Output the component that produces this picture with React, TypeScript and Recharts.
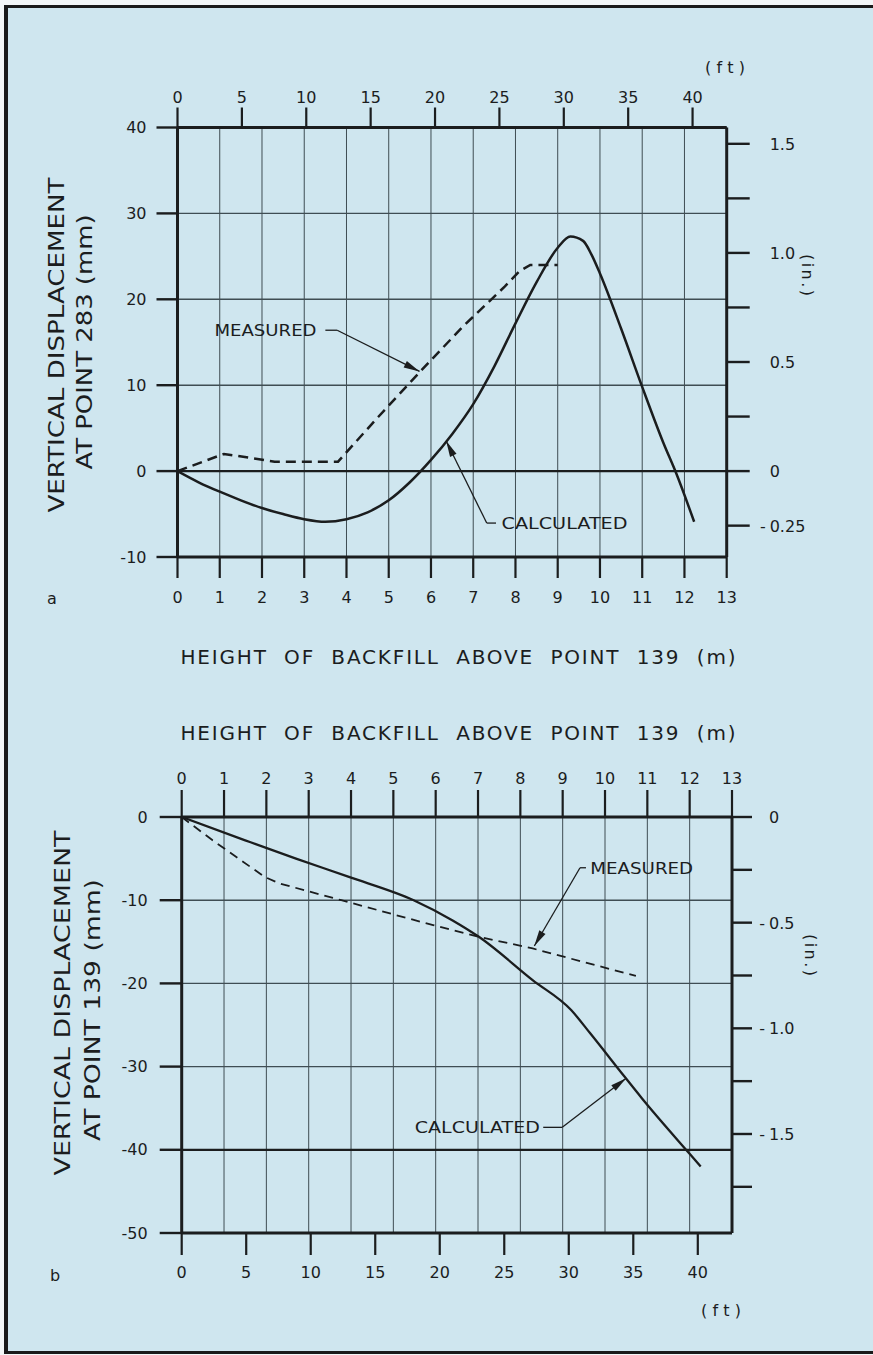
import React from 'react';
import { LineChart, Line, XAxis, YAxis, CartesianGrid, ReferenceLine, ReferenceDot } from 'recharts';

const FONT = '"DejaVu Sans", Verdana, sans-serif';
const INK = '#1b1d1e';
const GRID = '#3f4d53';
const BG = '#cfe6ef';

// ---------- chart a : point 283 ----------
const heightA_calc = [0, 0.5, 1, 1.5, 2, 2.5, 3, 3.5, 4, 4.5, 5, 5.5, 6, 6.5, 7, 7.5, 8, 8.5, 9, 9.3, 9.6, 9.8, 10, 10.5, 11, 11.5, 11.8, 12.23];
const dispA_calc = [0, -1.3, -2.4, -3.4, -4.3, -5.0, -5.6, -5.9, -5.6, -4.8, -3.4, -1.3, 1.3, 4.3, 7.8, 12.2, 17.2, 22, 26, 27.3, 26.8, 25.2, 23, 16.6, 9.8, 3.3, -0.2, -5.9];
const heightA_meas = [0, 1.1, 2.3, 3.8, 4.75, 5.71, 6.75, 7.75, 8.1, 8.35, 9.0];
const dispA_meas = [0, 2.0, 1.1, 1.1, 6.3, 11.4, 16.8, 21.5, 23.3, 24.0, 24.0];

// ---------- chart b : point 139 ----------
const heightB_calc = [0, 1.5, 2.7, 3.95, 5.48, 6.39, 7.02, 8.29, 9.2, 9.65, 10.46, 10.87, 12.02, 12.26];
const dispB_calc = [0, -2.8, -5.0, -7.2, -10.0, -12.4, -14.4, -19.6, -23.2, -26.0, -31.2, -33.8, -40.6, -42.0];
const heightB_meas = [0, 0.73, 1.4, 1.96, 2.32, 3.77, 5.94, 7.02, 8.29, 10.73];
const dispB_meas = [0, -2.8, -5.2, -7.2, -8.0, -10.0, -13.0, -14.4, -15.8, -19.1];

// ---------- ticks ----------
const metreTicks = [0, 1, 2, 3, 4, 5, 6, 7, 8, 9, 10, 11, 12, 13];
const footTicks = [0, 5, 10, 15, 20, 25, 30, 35, 40];
const mmTicksA = [-10, 0, 10, 20, 30, 40];
const inchTicksA = [-0.25, 0, 0.25, 0.5, 0.75, 1, 1.25, 1.5];
const inchLabelsA = ['-0.25', '0', '', '0.5', '', '1.0', '', '1.5'];
const mmTicksB = [-50, -40, -30, -20, -10, 0];
const inchTicksB = [-1.75, -1.5, -1.25, -1, -0.75, -0.5, -0.25, 0];
const inchLabelsB = ['', '-1.5', '', '-1.0', '', '-0.5', '', '0'];

// ---------- annotations (data units) ----------
const annotA = [
  { text: 'MEASURED', anchor: 'end', at: [3.29, 16.4], len: 102, path: [[3.5, 16.4], [3.78, 16.4], [5.73, 11.6]] },
  { text: 'CALCULATED', anchor: 'start', at: [7.67, -6.05], len: 126, path: [[7.54, -6.05], [7.32, -6.05], [6.36, 3.5]] },
];
const annotB = [
  { text: 'MEASURED', anchor: 'start', at: [9.65, -6.1], len: 103, path: [[9.55, -6.1], [9.41, -6.1], [8.33, -15.5]] },
  { text: 'CALCULATED', anchor: 'end', at: [8.46, -37.3], len: 125, path: [[8.54, -37.3], [8.99, -37.3], [10.5, -31.4]] },
];

const M_PER_FT = 0.3048;
const toPts = (xs: number[], ys: number[]) => xs.map((h, i) => ({ h, v: ys[i] }));
const toFeetPts = (xs: number[], ys: number[]) => xs.map((h, i) => ({ h: h / M_PER_FT, v: ys[i] }));

const tickText = { fill: INK, fontSize: 16, fontFamily: FONT };

const Seg = (p: any) => {
  const { x1, y1, x2, y2, arrow } = p;
  if ([x1, y1, x2, y2].some((v) => v == null || Number.isNaN(v))) return null;
  let head = null;
  if (arrow) {
    const dx = x2 - x1;
    const dy = y2 - y1;
    const L = Math.hypot(dx, dy) || 1;
    const ux = dx / L;
    const uy = dy / L;
    const len = 16;
    const w = 3.6;
    const bx = x2 - ux * len;
    const by = y2 - uy * len;
    head = <polygon points={`${x2},${y2} ${bx - uy * w},${by + ux * w} ${bx + uy * w},${by - ux * w}`} fill={INK} />;
  }
  return (
    <g>
      <line x1={x1} y1={y1} x2={x2} y2={y2} stroke={INK} strokeWidth={1.3} />
      {head}
    </g>
  );
};

const renderAnnotations = (list: any[], key: string) => {
  const out: any[] = [];
  list.forEach((a, ai) => {
    for (let i = 0; i < a.path.length - 1; i++) {
      const arrow = i === a.path.length - 2;
      out.push(
        <ReferenceLine
          key={`${key}-l-${ai}-${i}`}
          xAxisId="m"
          yAxisId="mm"
          segment={[{ x: a.path[i][0], y: a.path[i][1] }, { x: a.path[i + 1][0], y: a.path[i + 1][1] }]}
          ifOverflow="visible"
          shape={(p: any) => <Seg {...p} arrow={arrow} />}
        />
      );
    }
    out.push(
      <ReferenceDot
        key={`${key}-t-${ai}`}
        xAxisId="m"
        yAxisId="mm"
        x={a.at[0]}
        y={a.at[1]}
        ifOverflow="visible"
        shape={(p: any) => (
          <text
            x={p.cx}
            y={p.cy + 6}
            textAnchor={a.anchor}
            fontFamily={FONT}
            fontSize={16}
            fill={INK}
            textLength={a.len}
            lengthAdjust="spacingAndGlyphs"
          >
            {a.text}
          </text>
        )}
      />
    );
  });
  return out;
};

const makeInchTick = (ticks: number[], labels: string[]) => (p: any) => {
  const idx = ticks.indexOf(p.payload.value);
  const lab = idx >= 0 ? labels[idx] : '';
  if (!lab) return <g />;
  const neg = lab.startsWith('-');
  const num = neg ? lab.slice(1) : lab;
  return (
    <g>
      <text x={p.x} y={p.y + 6} textAnchor="start" fontFamily={FONT} fontSize={16} fill={INK}>
        {num}
      </text>
      {neg && (
        <text x={p.x - 4} y={p.y + 6} textAnchor="end" fontFamily={FONT} fontSize={16} fill={INK}>
          -
        </text>
      )}
    </g>
  );
};

const ChartA = () => (
  <LineChart width={873} height={640} margin={{ top: 87.5, right: 86.3, bottom: 43, left: 117.5 }}>
    <CartesianGrid xAxisId="m" yAxisId="mm" horizontal={false} stroke={GRID} strokeWidth={1} />
    <CartesianGrid xAxisId="m" yAxisId="mm" vertical={false} stroke={GRID} strokeWidth={1.4} />
    <XAxis
      xAxisId="m"
      dataKey="h"
      type="number"
      domain={[0, 13]}
      ticks={metreTicks}
      interval={0}
      allowDataOverflow
      orientation="bottom"
      height={40}
      tickSize={21}
      tickMargin={14}
      tick={tickText}
      tickLine={{ stroke: INK, strokeWidth: 2.2 }}
      axisLine={{ stroke: INK, strokeWidth: 3 }}
    />
    <XAxis
      xAxisId="ft"
      dataKey="h"
      type="number"
      domain={[0, 13 / M_PER_FT]}
      ticks={footTicks}
      interval={0}
      allowDataOverflow
      orientation="top"
      height={40}
      tickSize={20}
      tickMargin={5}
      tick={tickText}
      tickLine={{ stroke: INK, strokeWidth: 2.2 }}
      axisLine={{ stroke: INK, strokeWidth: 3 }}
    />
    <YAxis
      yAxisId="mm"
      type="number"
      domain={[-10, 40]}
      ticks={mmTicksA}
      interval={0}
      allowDataOverflow
      orientation="left"
      width={60}
      tickSize={21}
      tickMargin={10}
      tick={tickText}
      tickLine={{ stroke: INK, strokeWidth: 2.4 }}
      axisLine={{ stroke: INK, strokeWidth: 3 }}
    />
    <YAxis
      yAxisId="in"
      type="number"
      domain={[-10 / 25.4, 40 / 25.4]}
      ticks={inchTicksA}
      interval={0}
      allowDataOverflow
      orientation="right"
      width={60}
      tickSize={23}
      tickMargin={20}
      tick={makeInchTick(inchTicksA, inchLabelsA)}
      tickLine={{ stroke: INK, strokeWidth: 2.4 }}
      axisLine={{ stroke: INK, strokeWidth: 3 }}
    />
    <ReferenceLine xAxisId="m" yAxisId="mm" y={0} stroke={INK} strokeWidth={2.4} />
    {/* the same calculated curve expressed in feet: it carries the ft scale and is drawn invisibly */}
    <Line
      data={toFeetPts(heightA_calc, dispA_calc)}
      dataKey="v"
      xAxisId="ft"
      yAxisId="mm"
      type="monotone"
      stroke="transparent"
      strokeWidth={0}
      dot={false}
      activeDot={false}
      isAnimationActive={false}
    />
    <Line
      data={toPts(heightA_meas, dispA_meas)}
      dataKey="v"
      xAxisId="m"
      yAxisId="mm"
      type="linear"
      stroke={INK}
      strokeWidth={2.5}
      strokeDasharray="10 6"
      dot={false}
      isAnimationActive={false}
    />
    <Line
      data={toPts(heightA_calc, dispA_calc)}
      dataKey="v"
      xAxisId="m"
      yAxisId="mm"
      type="monotone"
      stroke={INK}
      strokeWidth={2.5}
      dot={false}
      isAnimationActive={false}
    />
    {renderAnnotations(annotA, 'a')}
  </LineChart>
);

const ChartB = () => (
  <LineChart width={873} height={715} margin={{ top: 137, right: 81, bottom: 82, left: 121.7 }}>
    <CartesianGrid xAxisId="m" yAxisId="mm" horizontal={false} stroke={GRID} strokeWidth={1} />
    <CartesianGrid xAxisId="m" yAxisId="mm" vertical={false} stroke={GRID} strokeWidth={1.4} />
    <XAxis
      xAxisId="m"
      dataKey="h"
      type="number"
      domain={[0, 13]}
      ticks={metreTicks}
      interval={0}
      allowDataOverflow
      orientation="top"
      height={40}
      tickSize={27}
      tickMargin={6}
      tick={tickText}
      tickLine={{ stroke: INK, strokeWidth: 2.2 }}
      axisLine={{ stroke: INK, strokeWidth: 3 }}
    />
    <XAxis
      xAxisId="ft"
      dataKey="h"
      type="number"
      domain={[0, 13 / M_PER_FT]}
      ticks={footTicks}
      interval={0}
      allowDataOverflow
      orientation="bottom"
      height={40}
      tickSize={22}
      tickMargin={12}
      tick={tickText}
      tickLine={{ stroke: INK, strokeWidth: 2.2 }}
      axisLine={{ stroke: INK, strokeWidth: 3 }}
    />
    <YAxis
      yAxisId="mm"
      type="number"
      domain={[-50, 0]}
      ticks={mmTicksB}
      interval={0}
      allowDataOverflow
      orientation="left"
      width={60}
      tickSize={22}
      tickMargin={12}
      tick={tickText}
      tickLine={{ stroke: INK, strokeWidth: 2.4 }}
      axisLine={{ stroke: INK, strokeWidth: 3 }}
    />
    <YAxis
      yAxisId="in"
      type="number"
      domain={[-50 / 25.4, 0]}
      ticks={inchTicksB}
      interval={0}
      allowDataOverflow
      orientation="right"
      width={60}
      tickSize={20}
      tickMargin={17}
      tick={makeInchTick(inchTicksB, inchLabelsB)}
      tickLine={{ stroke: INK, strokeWidth: 2.4 }}
      axisLine={{ stroke: INK, strokeWidth: 3 }}
    />
    <ReferenceLine xAxisId="m" yAxisId="mm" y={-40} stroke={INK} strokeWidth={2.2} />
    <Line
      data={toFeetPts(heightB_calc, dispB_calc)}
      dataKey="v"
      xAxisId="ft"
      yAxisId="mm"
      type="linear"
      stroke="transparent"
      strokeWidth={0}
      dot={false}
      activeDot={false}
      isAnimationActive={false}
    />
    <Line
      data={toPts(heightB_meas, dispB_meas)}
      dataKey="v"
      xAxisId="m"
      yAxisId="mm"
      type="linear"
      stroke={INK}
      strokeWidth={1.8}
      strokeDasharray="9 6"
      dot={false}
      isAnimationActive={false}
    />
    <Line
      data={toPts(heightB_calc, dispB_calc)}
      dataKey="v"
      xAxisId="m"
      yAxisId="mm"
      type="monotone"
      stroke={INK}
      strokeWidth={2.3}
      dot={false}
      isAnimationActive={false}
    />
    {renderAnnotations(annotB, 'b')}
  </LineChart>
);

const T = (props: any) => <text fontFamily={FONT} fill={INK} {...props} />;

export default function App() {
  return (
    <div style={{ position: 'absolute', left: 0, top: 0, width: 873, height: 1355, background: '#f3f6f7', overflow: 'hidden' }}>
      <div
        style={{
          position: 'absolute',
          left: 4,
          top: 5,
          width: 900,
          height: 1343,
          background: BG,
          borderLeft: '4px solid #1a1a1a',
          borderTop: '3px solid #1a1a1a',
          borderBottom: '3px solid #1a1a1a',
        }}
      />
      <div style={{ position: 'absolute', left: 0, top: 0 }}>
        <ChartA />
      </div>
      <div style={{ position: 'absolute', left: 0, top: 640 }}>
        <ChartB />
      </div>
      <svg width={873} height={1355} style={{ position: 'absolute', left: 0, top: 0, pointerEvents: 'none' }}>
        <T x={725} y={73} fontSize={16} textAnchor="middle" textLength={40} lengthAdjust="spacing">(ft)</T>
        <T x={0} y={0} fontSize={16} textAnchor="middle" transform="translate(802,275) rotate(90)" textLength={42} lengthAdjust="spacing">(in.)</T>
        <T x={0} y={0} fontSize={21} textAnchor="middle" transform="translate(64,345) rotate(-90)" textLength={335} lengthAdjust="spacingAndGlyphs">VERTICAL DISPLACEMENT</T>
        <T x={0} y={0} fontSize={21} textAnchor="middle" transform="translate(92,342) rotate(-90)" textLength={255} lengthAdjust="spacingAndGlyphs">AT POINT 283 (mm)</T>
        <T x={52} y={604} fontSize={16} textAnchor="middle">a</T>
        <T x={458} y={664} fontSize={20} textAnchor="middle" textLength={555} lengthAdjust="spacing" style={{ whiteSpace: 'pre' }}>HEIGHT  OF  BACKFILL  ABOVE  POINT  139  (m)</T>
        <T x={458} y={740} fontSize={20} textAnchor="middle" textLength={555} lengthAdjust="spacing" style={{ whiteSpace: 'pre' }}>HEIGHT  OF  BACKFILL  ABOVE  POINT  139  (m)</T>
        <T x={0} y={0} fontSize={21} textAnchor="middle" transform="translate(70,1003) rotate(-90)" textLength={345} lengthAdjust="spacingAndGlyphs">VERTICAL DISPLACEMENT</T>
        <T x={0} y={0} fontSize={21} textAnchor="middle" transform="translate(100,1010) rotate(-90)" textLength={262} lengthAdjust="spacingAndGlyphs">AT POINT 139 (mm)</T>
        <T x={0} y={0} fontSize={16} textAnchor="middle" transform="translate(805,955) rotate(90)" textLength={42} lengthAdjust="spacing">(in.)</T>
        <T x={55} y={1281} fontSize={16} textAnchor="middle">b</T>
        <T x={721} y={1316} fontSize={16} textAnchor="middle" textLength={40} lengthAdjust="spacing">(ft)</T>
      </svg>
    </div>
  );
}
